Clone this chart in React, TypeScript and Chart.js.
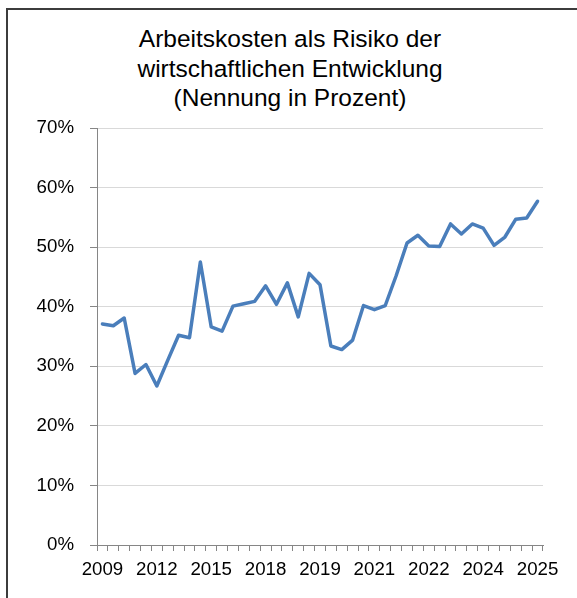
import React, { useEffect, useRef } from "react";
import { Chart, registerables } from "chart.js";

Chart.register(...registerables);

const titleLines = [
  "Arbeitskosten als Risiko der",
  "wirtschaftlichen Entwicklung",
  "(Nennung in Prozent)",
];

const categories = [
  "2009", "", "", "", "",
  "2012", "", "", "", "",
  "2015", "", "", "", "",
  "2018", "", "", "", "",
  "2019", "", "", "", "",
  "2021", "", "", "", "",
  "2022", "", "", "", "",
  "2024", "", "", "", "",
  "2025",
];

const values = [
  37.1, 36.8, 38.1, 28.8, 30.3, 26.7, 31.0, 35.2, 34.8, 47.5,
  36.6, 35.9, 40.1, 40.5, 40.9, 43.5, 40.4, 44.0, 38.3, 45.6,
  43.7, 33.4, 32.8, 34.4, 40.2, 39.5, 40.2, 45.2, 50.7, 52.0,
  50.2, 50.1, 53.9, 52.2, 53.9, 53.2, 50.3, 51.7, 54.7, 54.9,
  57.7,
];

const yMin = 0;
const yMax = 70;
const yStep = 10;

const FONT = "'Liberation Sans', Arial, Helvetica, sans-serif";

export default function App() {
  const ref = useRef<HTMLCanvasElement | null>(null);

  useEffect(() => {
    if (!ref.current) return;
    const chart = new Chart(ref.current, {
      type: "line",
      data: {
        labels: categories,
        datasets: [
          {
            data: values,
            borderColor: "#4a7ebb",
            backgroundColor: "#4a7ebb",
            borderWidth: 3.5,
            pointRadius: 0,
            tension: 0,
            borderJoinStyle: "round",
            borderCapStyle: "round",
          },
        ],
      },
      options: {
        animation: false,
        responsive: false,
        maintainAspectRatio: false,
        layout: { padding: { left: 0, right: 34, top: 128, bottom: 0 } },
        plugins: {
          legend: { display: false },
          title: { display: false },
          tooltip: { enabled: false },
        },
        scales: {
          x: {
            type: "category",
            offset: true,
            grid: {
              offset: true,
              drawOnChartArea: false,
              drawTicks: true,
              tickLength: 6,
              tickColor: "#868686",
              color: "#868686",
            },
            border: { display: true, color: "#868686", width: 1 },
            ticks: {
              autoSkip: false,
              maxRotation: 0,
              minRotation: 0,
              padding: 8,
              color: "#000",
              font: { family: FONT, size: 18.7 },
              callback: (_v: any, i: number) => categories[i],
            },
            afterFit: (s: any) => {
              s.height = 53;
            },
          },
          y: {
            min: yMin,
            max: yMax,
            grid: {
              color: "#d9d9d9",
              lineWidth: 1,
              drawTicks: true,
              tickLength: 7,
              tickColor: "#868686",
            },
            border: { display: true, color: "#868686", width: 1 },
            ticks: {
              stepSize: yStep,
              padding: 16,
              color: "#000",
              font: { family: FONT, size: 18.7 },
              callback: (v: any) => v + "%",
            },
            afterFit: (s: any) => {
              s.width = 97;
            },
          },
        },
      },
    });
    return () => chart.destroy();
  }, []);

  return (
    <div
      style={{
        position: "fixed",
        left: 0,
        top: 0,
        width: 577,
        height: 598,
        overflow: "hidden",
        background: "#fff",
      }}
    >
      <div
        style={{
          position: "absolute",
          left: 6,
          top: 8,
          width: 700,
          height: 700,
          borderTop: "2px solid #3c3c3c",
          borderLeft: "2px solid #3c3c3c",
        }}
      />
      <div
        style={{
          position: "absolute",
          left: 90,
          width: 400,
          top: 24,
          textAlign: "center",
          fontFamily: FONT,
          fontSize: 24.5,
          lineHeight: "29.5px",
          color: "#000",
          whiteSpace: "nowrap",
        }}
      >
        {titleLines.map((t, i) => (
          <div key={i}>{t}</div>
        ))}
      </div>
      <canvas
        ref={ref}
        width={577}
        height={598}
        style={{ position: "absolute", left: 0, top: 0, width: 577, height: 598 }}
      />
    </div>
  );
}
